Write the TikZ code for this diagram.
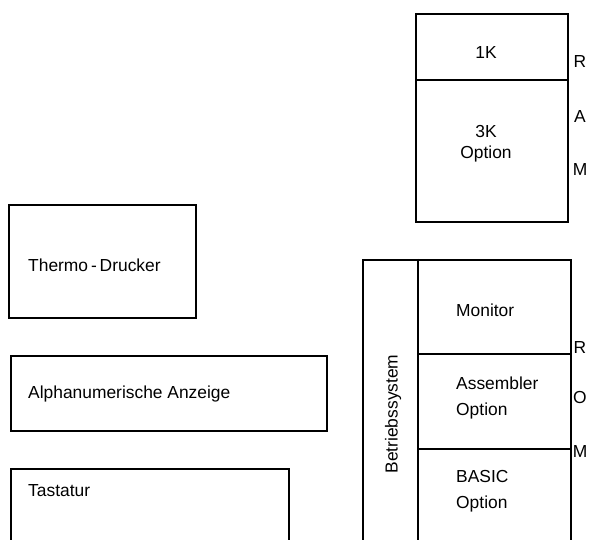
\documentclass[tikz,border=0pt]{standalone}
\usepackage{fontspec}
\setmainfont{Liberation Sans}
\begin{document}
\begin{tikzpicture}[x=1pt,y=-1pt,
  box/.style={draw,line width=2pt,inner sep=0pt,anchor=north west},
  txt/.style={font=\fontsize{17.4}{20}\selectfont,inner sep=0pt},
  ltxt/.style={txt,anchor=west,align=left},
  sep/.style={line width=2pt}]
\useasboundingbox (0,0) rectangle (592,540);
\clip (0,0) rectangle (592,540);
% RAM
\node[box,minimum width=152pt,minimum height=208pt] (ram) at (415,13) {};
\coordinate (ramL) at (415,80);
\coordinate (ramR) at (567,80);
\draw[sep] (ramL) -- (ramR);
\node[txt] (k1) at (486,53) {1K};
\node[txt,align=center] (k3) at (486,144) {3K\\[1pt]Option};
\node[txt] (ra) at (580,62) {R};
\node[txt] (rb) at (580,117) {A};
\node[txt] (rc) at (580,170) {M};
% ROM
\node[box,minimum width=208pt,minimum height=320pt] (rom) at (362,259) {};
\coordinate (romT) at (418,259);
\coordinate (romB) at (418,580);
\draw[sep] (romT) -- (romB);
\coordinate (d1L) at (418,354);
\coordinate (d1R) at (570,354);
\coordinate (d2L) at (418,449);
\coordinate (d2R) at (570,449);
\draw[sep] (d1L) -- (d1R);
\draw[sep] (d2L) -- (d2R);
\node[txt,rotate=90] (bs) at (393,414) {Betriebssystem};
\node[ltxt] (mon) at (456,310) {Monitor};
\node[ltxt] (asm) at (456,398) {Assembler\\[6pt]Option};
\node[ltxt] (bas) at (456,491) {BASIC\\[6pt]Option};
\node[txt] (oa) at (580,348) {R};
\node[txt] (ob) at (580,398) {O};
\node[txt] (oc) at (580,452) {M};
% left boxes
\node[box,minimum width=187pt,minimum height=113pt] (thermo) at (8,204) {};
\node[ltxt] (tt) at (28,265) {Thermo\,-\,Drucker};
\node[box,minimum width=316pt,minimum height=75pt] (alpha) at (10,355) {};
\node[ltxt] (at) at (28,394) {Alphanumerische Anzeige};
\node[box,minimum width=278pt,minimum height=110pt] (tast) at (10,468) {};
\node[ltxt] (ta) at (28,491) {Tastatur};
\end{tikzpicture}
\end{document}
